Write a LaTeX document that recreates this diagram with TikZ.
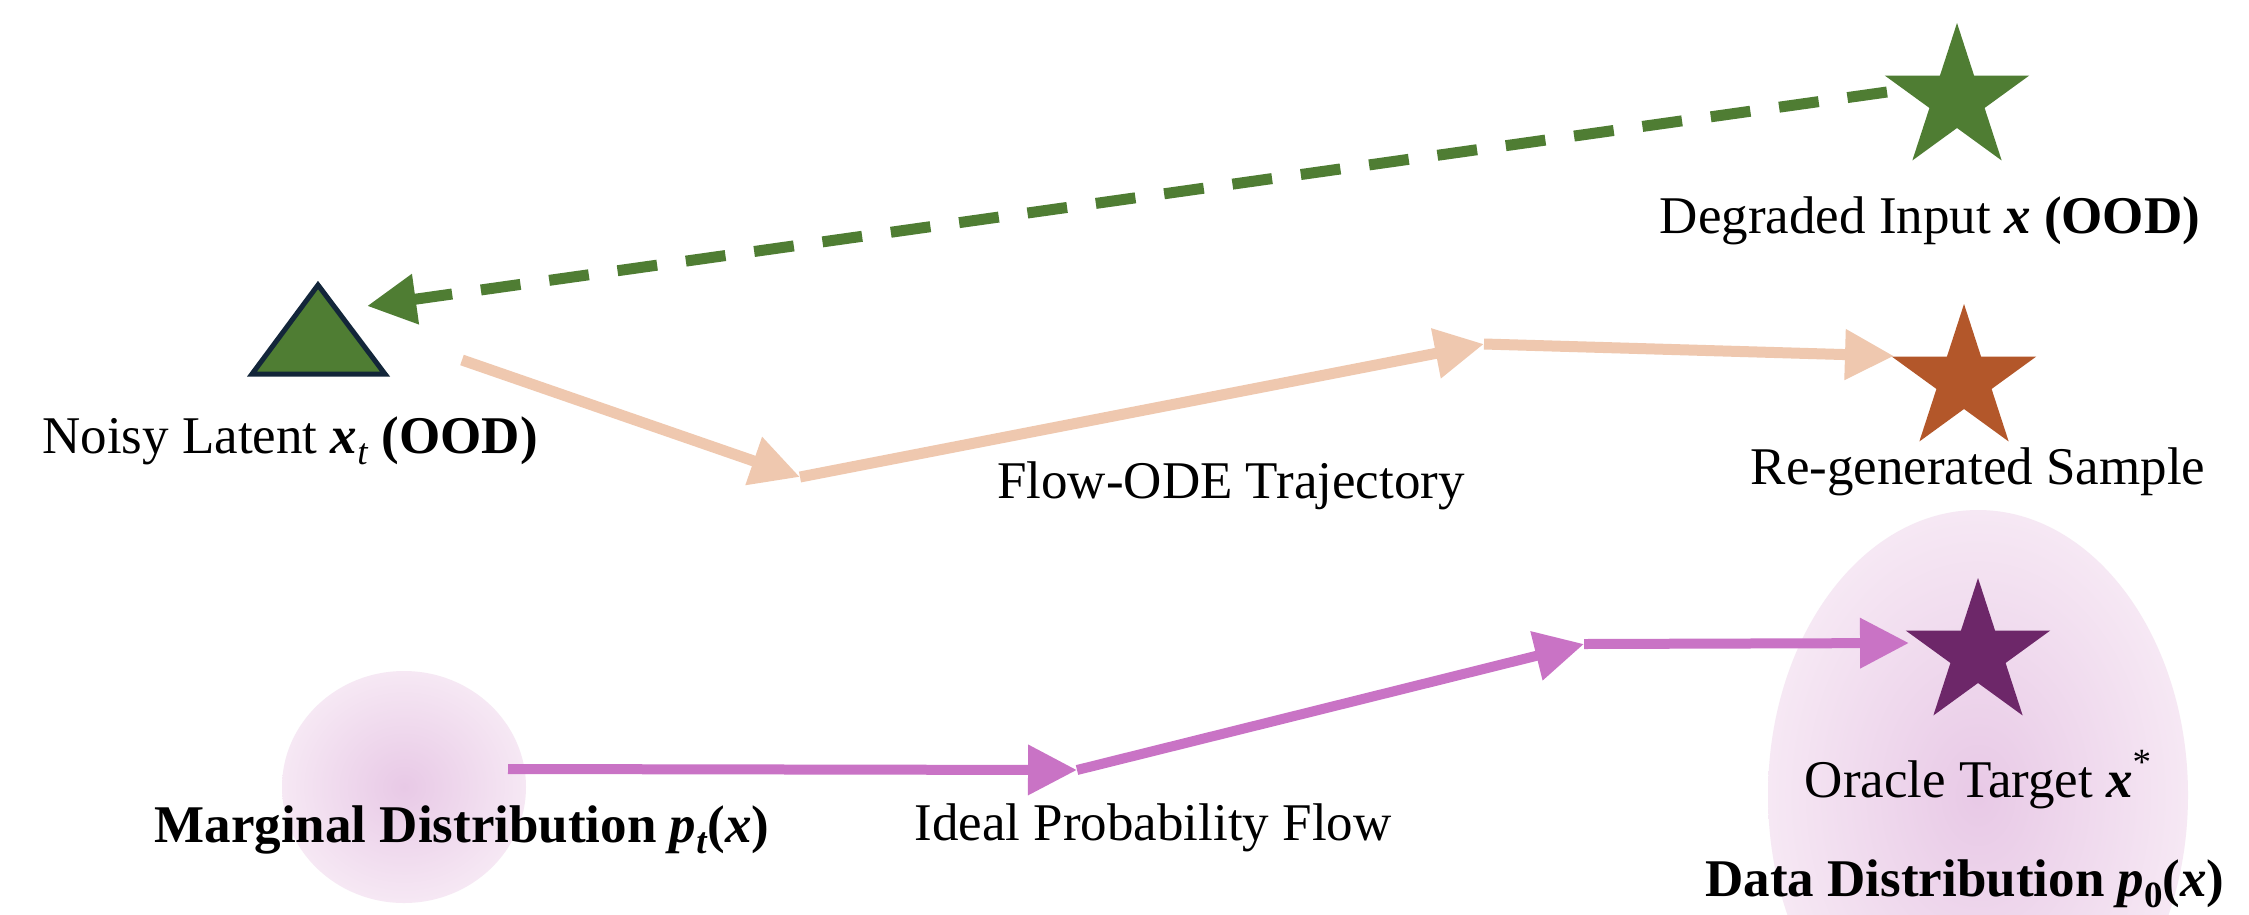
\documentclass[tikz,border=0pt]{standalone}
\usepackage{fontspec}
\setmainfont{Liberation Serif}
\usetikzlibrary{arrows.meta}
\definecolor{ggreen}{HTML}{4F7D33}
\definecolor{tnavy}{HTML}{13263A}
\definecolor{peach}{HTML}{EFC8AF}
\definecolor{rust}{HTML}{B3572A}
\definecolor{orchid}{HTML}{C973C5}
\definecolor{plum}{HTML}{6D2769}
\definecolor{blobin}{HTML}{E8C9E6}
\definecolor{blobout}{HTML}{F6E8F4}
\newcommand{\bx}{\textbf{\textit{x}}}
\newcommand{\mysub}[1]{\raisebox{-0.22em}{\fontsize{37}{40}\selectfont #1}}
\newcommand{\mysup}[1]{\raisebox{0.42em}{\fontsize{37}{40}\selectfont #1}}
\tikzset{
  pics/fstar/.style={code={
    \fill[#1] (90:76pt) \foreach \i in {0,...,4}{ -- ({90+72*\i}:76pt) -- ({126+72*\i}:29pt)} -- cycle;}},
  lbl/.style={anchor=base, inner sep=0pt, font=\fontsize{53}{64}\selectfont},
  blob/.style={shading=radial, inner color=blobin, outer color=blobout},
  peacharrow/.style={draw=peach, line width=11pt, -{Triangle[length=49pt,width=48pt]}, color=peach},
  orchidarrow/.style={draw=orchid, line width=10pt, -{Triangle[length=49pt,width=48pt]}, color=orchid},
  greenarrow/.style={draw=ggreen, line width=11pt, dash pattern=on 40pt off 29pt, -{Triangle[length=49pt,width=48pt]}, color=ggreen}
}
\begin{document}
\begin{tikzpicture}[x=1pt,y=-1pt]
\useasboundingbox (0,0) rectangle (2249,914);
\fill[white] (0,0) rectangle (2249,914);
\clip (0,0) rectangle (2249,914);

% distributions
\shade[blob] (404,787) ellipse [x radius=122pt, y radius=116pt];
\shade[blob] (1978,795) ellipse [x radius=210pt, y radius=285pt];

% named anchor points
\coordinate (gstar) at (1957,99);
\coordinate (rstar) at (1964,380);
\coordinate (pstar) at (1978,654);
\coordinate (gsL) at (1887,92);
\coordinate (triR) at (367,306);
\coordinate (p1) at (462,360);
\coordinate (p2) at (800,477);
\coordinate (p3) at (1484,344);
\coordinate (p4) at (1894,356);
\coordinate (q1) at (508,769);
\coordinate (q2) at (1077,770);
\coordinate (q3) at (1584,644);
\coordinate (q4) at (1909,643);

% connectors
\draw[greenarrow] (gsL) -- (triR);
\draw[peacharrow] (p1) -- (p2);
\draw[peacharrow] (p2) -- (p3);
\draw[peacharrow] (p3) -- (p4);
\draw[orchidarrow] (q1) -- (q2);
\draw[orchidarrow] (q2) -- (q3);
\draw[orchidarrow] (q3) -- (q4);

% markers
\pic at (gstar) {fstar=ggreen};
\pic at (rstar) {fstar=rust};
\pic at (pstar) {fstar=plum};
\filldraw[fill=ggreen, draw=tnavy, line width=5pt, line join=miter] (318,285) -- (385,374) -- (252,374) -- cycle;

% labels
\node[lbl] (ldeg) at (1930,233) {Degraded Input \bx{} \textbf{(OOD)}};
\node[lbl] (lnoisy) at (290,453) {Noisy Latent \bx\mysub{\textit{t}} \textbf{(OOD)}};
\node[lbl] (lflow) at (1231,498) {Flow-ODE Trajectory};
\node[lbl] (lregen) at (1978,484) {Re-generated Sample};
\node[lbl] (loracle) at (1978,797) {Oracle Target \bx\mysup{*}};
\node[lbl] (lideal) at (1153,840) {Ideal Probability Flow};
\node[lbl] (lmarg) at (462,842) {\textbf{Marginal Distribution \textit{p}\mysub{\textit{t}}(\textit{x})}};
\node[lbl] (ldata) at (1965,896) {\textbf{Data Distribution \textit{p}\mysub{0}(\textit{x})}};
\end{tikzpicture}
\end{document}
